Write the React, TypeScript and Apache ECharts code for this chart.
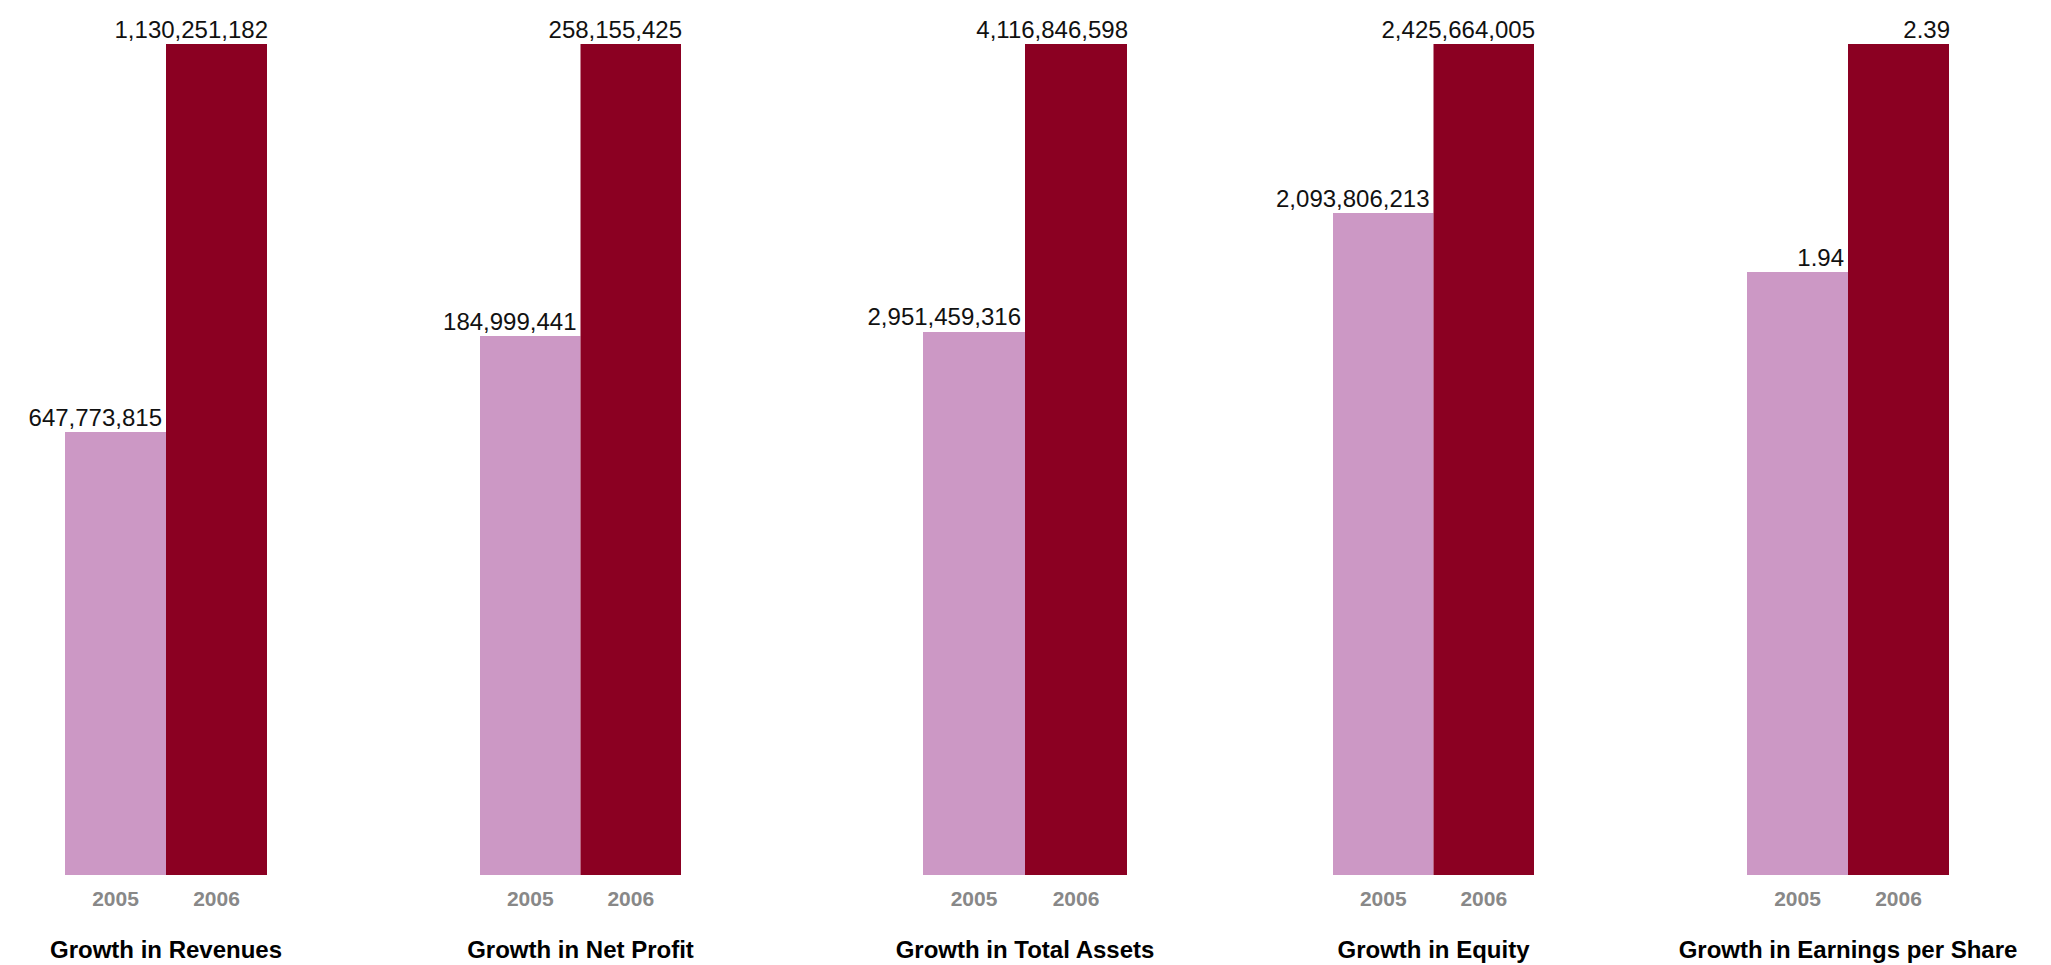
import React, { useEffect, useRef } from "react";
import * as echarts from "echarts";

const categories = ["2005", "2006"];
const panelTitles = [
  "Growth in Revenues",
  "Growth in Net Profit",
  "Growth in Total Assets",
  "Growth in Equity",
  "Growth in Earnings per Share",
];
const values2005 = [647773815, 184999441, 2951459316, 2093806213, 1.94];
const values2006 = [1130251182, 258155425, 4116846598, 2425664005, 2.39];
// visual baseline of each panel's (hidden) value axis, as drawn in the original
const axisMins = [97000000, 50000000, 754000000, 794000000, 0.75];

const gridLefts = [65, 480, 923, 1333, 1747];
const gridWidths = [202, 201, 204, 201, 202];
const GRID_TOP = 44;
const GRID_HEIGHT = 831;
const PINK = "#CC98C5";
const CRIMSON = "#8B0022";

function fmt(v: number): string {
  return v >= 1000 ? v.toLocaleString("en-US") : v.toFixed(2);
}

export default function App() {
  const ref = useRef<HTMLDivElement>(null);
  useEffect(() => {
    if (!ref.current) return;
    const chart = echarts.init(ref.current, undefined, { renderer: "svg" });
    const grids = gridLefts.map((l, i) => ({
      left: l,
      width: gridWidths[i],
      top: GRID_TOP,
      height: GRID_HEIGHT,
      containLabel: false,
    }));
    const xAxes = gridLefts.map((_, i) => ({
      type: "category",
      gridIndex: i,
      data: categories,
      axisLine: { show: false },
      axisTick: { show: false },
      axisLabel: {
        color: "#888888",
        fontWeight: "bold",
        fontSize: 21,
        fontFamily: "Liberation Sans",
        margin: 13,
      },
      splitLine: { show: false },
    }));
    const yAxes = gridLefts.map((_, i) => ({
      type: "value",
      gridIndex: i,
      show: false,
      min: axisMins[i],
      max: values2006[i],
      splitLine: { show: false },
    }));
    const series = gridLefts.map((_, i) => ({
      type: "bar",
      xAxisIndex: i,
      yAxisIndex: i,
      barCategoryGap: "0%",
      data: [
        { value: values2005[i], itemStyle: { color: PINK }, label: { offset: [-4, -3] } },
        { value: values2006[i], itemStyle: { color: CRIMSON }, label: { offset: [1, -3] } },
      ],
      label: {
        show: true,
        position: ["100%", 0],
        align: "right",
        verticalAlign: "bottom",
        offset: [-2, -3],
        color: "#111111",
        fontSize: 24,
        fontFamily: "Liberation Sans",
        formatter: (p: any) => fmt(p.value),
      },
    }));
    const graphics = gridLefts.map((l, i) => ({
      type: "text",
      x: l + gridWidths[i] / 2,
      y: 949,
      style: {
        text: panelTitles[i],
        align: "center",
        verticalAlign: "middle",
        fontSize: 24,
        fontWeight: "bold",
        fontFamily: "Liberation Sans",
        fill: "#000000",
      },
    }));
    chart.setOption({
      animation: false,
      backgroundColor: "#ffffff",
      grid: grids,
      xAxis: xAxes,
      yAxis: yAxes,
      series,
      graphic: graphics,
    });
    return () => chart.dispose();
  }, []);
  return (
    <div
      ref={ref}
      style={{ position: "fixed", left: 0, top: 0, width: 2051, height: 965 }}
    />
  );
}
